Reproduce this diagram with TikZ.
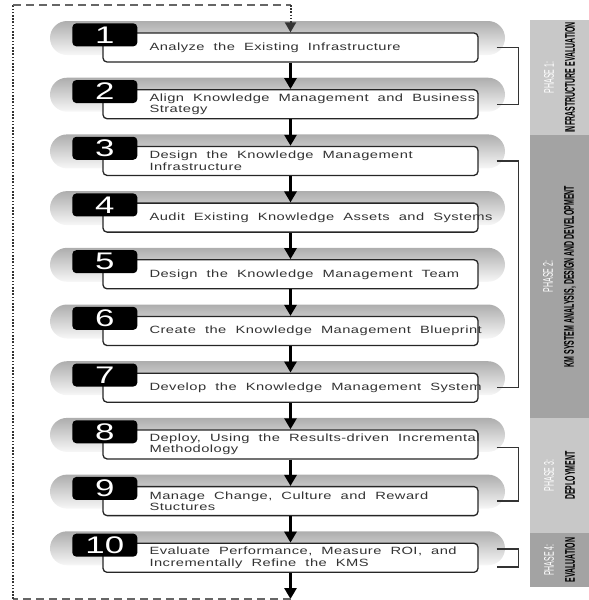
\documentclass[tikz,border=0pt]{standalone}
\usepackage{fontspec}
\usetikzlibrary{arrows.meta,backgrounds}
\newfontfamily\stepfont[FakeStretch=1.4,LetterSpace=4.4,WordSpace=2]{Liberation Sans}
\newfontfamily\numfont[FakeStretch=1.45]{Liberation Sans}
\newfontfamily\phasefont[FakeStretch=0.5]{Liberation Sans}
\definecolor{phaselight}{HTML}{C8C8C8}
\definecolor{phasedark}{HTML}{A3A3A3}

\begin{document}
\begin{tikzpicture}[
  x=1pt, y=1pt,
  stepbox/.style={rectangle, draw=black!85, line width=1.3pt, rounded corners=4pt, fill=white, minimum width=375pt, minimum height=29pt, inner sep=0pt},
  steptext/.style={anchor=west, align=left, inner sep=0pt, text=black!80, font=\stepfont\fontsize{10.5}{11.5}\selectfont},
  numtab/.style={rectangle, fill=black, rounded corners=4pt, minimum width=65pt, minimum height=23pt, inner sep=0pt, text=white, font=\numfont\fontsize{24}{24}\selectfont},
  blob/.style={rectangle, rounded corners=17pt, minimum width=455pt, minimum height=34pt, top color=black!32, bottom color=black!3},
  phasebar/.style={rectangle, rotate=90, minimum height=59pt, inner sep=0pt, align=center, font=\phasefont\fontsize{14}{16}\selectfont},
  bracket/.style={draw=black!80, line width=1.4pt},
  flow/.style={-{Triangle[width=12pt,length=11pt]}, line width=3.5pt},
  loopdash/.style={draw=black!60, line width=1.4pt, dash pattern=on 8pt off 5pt},
  loopdot/.style={draw=black!80, line width=2pt, dash pattern=on 1.6pt off 1.6pt},
  node distance=56.7pt
]
\useasboundingbox (0,0) rectangle (589,-600);

% steps
\node[stepbox] (box1) at (290.5,-47.5) {};
\node[stepbox, below of=box1] (box2) {};
\node[stepbox, below of=box2] (box3) {};
\node[stepbox, below of=box3] (box4) {};
\node[stepbox, below of=box4] (box5) {};
\node[stepbox, below of=box5] (box6) {};
\node[stepbox, below of=box6] (box7) {};
\node[stepbox, below of=box7] (box8) {};
\node[stepbox, below of=box8] (box9) {};
\node[stepbox, below of=box9] (box10) {};

\begin{scope}[on background layer]
\foreach \i in {1,...,10}
  \node[blob] at ([xshift=-13pt,yshift=9.5pt]box\i.center) {};
\end{scope}

\node[numtab] (num1) at ([xshift=2.5pt,yshift=-2.5pt]box1.north west) {1};
\node[numtab] (num2) at ([xshift=2.5pt,yshift=-2.5pt]box2.north west) {2};
\node[numtab] (num3) at ([xshift=2.5pt,yshift=-2.5pt]box3.north west) {3};
\node[numtab] (num4) at ([xshift=2.5pt,yshift=-2.5pt]box4.north west) {4};
\node[numtab] (num5) at ([xshift=2.5pt,yshift=-2.5pt]box5.north west) {5};
\node[numtab] (num6) at ([xshift=2.5pt,yshift=-2.5pt]box6.north west) {6};
\node[numtab] (num7) at ([xshift=2.5pt,yshift=-2.5pt]box7.north west) {7};
\node[numtab] (num8) at ([xshift=2.5pt,yshift=-2.5pt]box8.north west) {8};
\node[numtab] (num9) at ([xshift=2.5pt,yshift=-2.5pt]box9.north west) {9};
\node[numtab] (num10) at ([xshift=2.5pt,yshift=-2.5pt]box10.north west) {10};

\node[steptext] (txt1) at ([xshift=47pt]box1.west) {Analyze the Existing Infrastructure};
\node[steptext] (txt2) at ([xshift=47pt]box2.west) {Align Knowledge Management and Business\\Strategy};
\node[steptext] (txt3) at ([xshift=47pt]box3.west) {Design the Knowledge Management\\Infrastructure};
\node[steptext] (txt4) at ([xshift=47pt]box4.west) {Audit Existing Knowledge Assets and Systems};
\node[steptext] (txt5) at ([xshift=47pt]box5.west) {Design the Knowledge Management Team};
\node[steptext] (txt6) at ([xshift=47pt]box6.west) {Create the Knowledge Management Blueprint};
\node[steptext] (txt7) at ([xshift=47pt]box7.west) {Develop the Knowledge Management System};
\node[steptext] (txt8) at ([xshift=47pt]box8.west) {Deploy, Using the Results-driven Incremental\\Methodology};
\node[steptext] (txt9) at ([xshift=47pt]box9.west) {Manage Change, Culture and Reward\\Stuctures};
\node[steptext] (txt10) at ([xshift=47pt]box10.west) {Evaluate Performance, Measure ROI, and\\Incrementally Refine the KMS};

% phases
\node[phasebar, fill=phaselight, minimum width=115pt] (phase1) at (559.5,-77.5) {\textcolor{white}{PHASE 1:}\\[5pt]\textbf{INFRASTRUCTURE EVALUATION}};
\node[phasebar, fill=phasedark, minimum width=283pt] (phase2) at (559.5,-276.5) {\textcolor{white}{PHASE 2:}\\[5pt]\textbf{KM SYSTEM ANALYSIS, DESIGN AND DEVELOPMENT}};
\node[phasebar, fill=phaselight, minimum width=115pt] (phase3) at (559.5,-475.5) {\textcolor{white}{PHASE 3:}\\[5pt]\textbf{DEPLOYMENT}};
\node[phasebar, fill=phasedark, minimum width=54pt] (phase4) at (559.5,-560) {\textcolor{white}{PHASE 4:}\\[5pt]\textbf{EVALUATION}};

\draw[bracket] ([xshift=18pt]box1.east) -- ++(22,0) |- ([xshift=18pt]box2.east);
\draw[bracket] ([xshift=18pt]box3.east) -- ++(22,0) |- ([xshift=18pt]box7.east);
\draw[bracket] ([xshift=18pt,yshift=-3pt]box8.east) -- ++(22,0) |- ([xshift=18pt]box9.east);
\draw[bracket] ([xshift=18pt,yshift=9pt]box10.east) -- ++(22,0) |- ([xshift=18pt,yshift=-9pt]box10.east);

% flow
\coordinate (loopout) at (290.5,-599);
\coordinate (loopbl) at (13,-599);
\coordinate (looptl) at (13,-5);
\coordinate (looptr) at (290.5,-5);

\draw[flow] (box1) -- (box2);
\draw[flow] (box2) -- (box3);
\draw[flow] (box3) -- (box4);
\draw[flow] (box4) -- (box5);
\draw[flow] (box5) -- (box6);
\draw[flow] (box6) -- (box7);
\draw[flow] (box7) -- (box8);
\draw[flow] (box8) -- (box9);
\draw[flow] (box9) -- (box10);
\draw[flow] (box10) -- (loopout);

\draw[loopdash] (loopout) -- (loopbl);
\draw[loopdot] (loopbl) -- (looptl);
\draw[loopdash] (looptl) -- (looptr);
\draw[loopdot, -{Triangle[width=11pt,length=10pt]}] (looptr) -- (box1);
\end{tikzpicture}
\end{document}
